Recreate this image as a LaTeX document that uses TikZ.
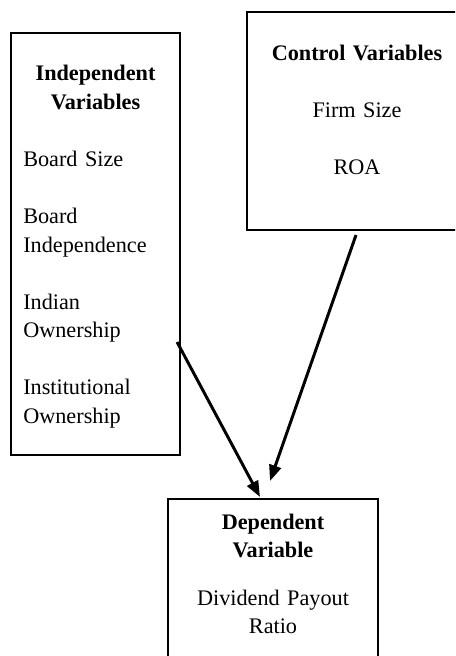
\documentclass[tikz,border=0pt]{standalone}
\usepackage{fontspec}
\setmainfont{Liberation Serif}
\usetikzlibrary{arrows.meta}

\begin{document}
\begin{tikzpicture}[
    x=0.54pt, y=-0.54pt,
    % Boxes: thin black frame, spacing set by hand with struts
    var box/.style={draw=black, line width=1.08pt, inner xsep=6pt, inner ysep=0pt,
        outer sep=0pt, anchor=north west, font=\fontsize{12}{15.39}\selectfont},
    % Connectors into the dependent variable
    link/.style={-{Triangle[length=8.6pt, width=6.5pt]}, line width=1.6pt}
]
    \useasboundingbox (0,0) rectangle (455,656);
    \clip (0,0) rectangle (455,656);

    % Left: independent variables (heading centred, items flush left)
    \node[var box, inner xsep=6.64pt, text width=78pt, align=left] (IndepBox) at (11,33) {%
        \makebox[\hsize]{\rule{0pt}{25.92pt}\bfseries Independent}\\
        \makebox[\hsize]{\bfseries Variables}\\[15.39pt]
        Board Size\\[15.39pt]
        Board\\ Independence\\[15.39pt]
        Indian\\ Ownership\\[15.39pt]
        Institutional\\ Ownership\rule[-17.28pt]{0pt}{0pt}};

    % Right: control variables (runs past the right margin)
    \node[var box, text width=106.8pt, align=center] (CtrlBox) at (247,12) {%
        \rule{0pt}{26.19pt}\textbf{Control Variables}\\[15.39pt]
        Firm Size\\[15.39pt]
        ROA\rule[-29.97pt]{0pt}{0pt}};

    % Bottom: dependent variable (cut by the lower margin)
    \node[var box, text width=101.4pt, align=center, font=\fontsize{12}{15.12}\selectfont] (DepBox) at (168,499) {%
        \rule{0pt}{16.2pt}\textbf{Dependent}\\
        \textbf{Variable}\\[10.8pt]
        Dividend Payout\\
        Ratio\rule[-20.5pt]{0pt}{0pt}};

    % Arrows
    \draw[link] ([shift={(-3,98)}]IndepBox.east) -- ([shift={(-13,-2)}]DepBox.north);
    \draw[link] ([shift={(-1,5)}]CtrlBox.south) -- ([shift={(-3,-18)}]DepBox.north);

\end{tikzpicture}
\end{document}
